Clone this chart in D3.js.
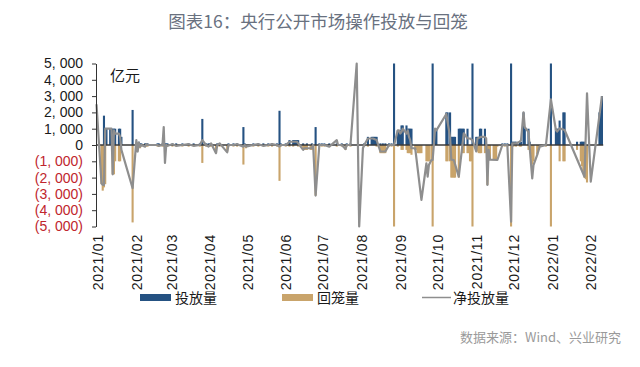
<!DOCTYPE html>
<html>
<head>
<meta charset="utf-8">
<script src="https://cdn.jsdelivr.net/npm/d3@7"></script>
<style>
  body { margin: 0; background: #fff; }
  svg { display: block; }
</style>
</head>
<body>
<div id="chart"></div>
<script>
// 央行公开市场操作 daily amounts, 亿元
const injection = [
  ['2021-01-06', 1800], ['2021-01-07', 1000], ['2021-01-08', 1000], ['2021-01-11', 1000], ['2021-01-12', 1000],
  ['2021-01-13', 1000], ['2021-01-14', 1000], ['2021-01-15', 1000], ['2021-01-18', 1000], ['2021-01-19', 1000],
  ['2021-01-20', 500], ['2021-01-29', 2150],
  ['2021-02-01', 100], ['2021-02-03', 200], ['2021-02-04', 100], ['2021-02-05', 100], ['2021-02-08', 100],
  ['2021-02-09', 100], ['2021-02-10', 100], ['2021-02-18', 100], ['2021-02-19', 100], ['2021-02-22', 100],
  ['2021-02-23', 100], ['2021-02-24', 100], ['2021-02-25', 100], ['2021-02-26', 100],
  ['2021-03-02', 100], ['2021-03-05', 100], ['2021-03-10', 100], ['2021-03-15', 100], ['2021-03-19', 100],
  ['2021-03-24', 100], ['2021-03-26', 1600], ['2021-03-29', 100], ['2021-03-31', 100],
  ['2021-04-01', 100], ['2021-04-02', 100], ['2021-04-07', 100], ['2021-04-09', 100], ['2021-04-16', 100],
  ['2021-04-20', 100], ['2021-04-23', 100], ['2021-04-28', 1100], ['2021-04-29', 100],
  ['2021-05-06', 100], ['2021-05-10', 100], ['2021-05-14', 100], ['2021-05-18', 100], ['2021-05-21', 100],
  ['2021-05-25', 100], ['2021-05-27', 2100], ['2021-05-28', 100],
  ['2021-06-01', 100], ['2021-06-04', 300], ['2021-06-07', 300], ['2021-06-08', 300], ['2021-06-09', 300],
  ['2021-06-10', 300], ['2021-06-11', 300], ['2021-06-15', 100], ['2021-06-18', 100], ['2021-06-22', 100],
  ['2021-06-25', 1100], ['2021-06-28', 100], ['2021-06-30', 100],
  ['2021-07-02', 100], ['2021-07-06', 100], ['2021-07-12', 100], ['2021-07-16', 100], ['2021-07-20', 100],
  ['2021-07-23', 100],
  ['2021-08-03', 100], ['2021-08-06', 500], ['2021-08-09', 500], ['2021-08-10', 500], ['2021-08-11', 500],
  ['2021-08-12', 500], ['2021-08-13', 500], ['2021-08-16', 100], ['2021-08-18', 100], ['2021-08-20', 100],
  ['2021-08-23', 100], ['2021-08-25', 100], ['2021-08-27', 6000], ['2021-08-30', 900], ['2021-08-31', 900],
  ['2021-09-01', 900], ['2021-09-02', 1200], ['2021-09-03', 1200], ['2021-09-06', 1200], ['2021-09-07', 1000],
  ['2021-09-08', 1000], ['2021-09-09', 1000], ['2021-09-10', 1000], ['2021-09-27', 6000], ['2021-09-29', 1000],
  ['2021-09-30', 1000],
  ['2021-10-08', 2000], ['2021-10-09', 2000], ['2021-10-11', 2000], ['2021-10-12', 500], ['2021-10-13', 500],
  ['2021-10-14', 500], ['2021-10-15', 500], ['2021-10-18', 1000], ['2021-10-19', 1000], ['2021-10-20', 1000],
  ['2021-10-21', 1000], ['2021-10-22', 1000], ['2021-10-25', 1000], ['2021-10-29', 6000],
  ['2021-11-01', 500], ['2021-11-02', 500], ['2021-11-03', 500], ['2021-11-04', 1000], ['2021-11-05', 1000],
  ['2021-11-08', 1000], ['2021-11-22', 100], ['2021-11-24', 100], ['2021-11-26', 100], ['2021-11-29', 6000],
  ['2021-11-30', 200],
  ['2021-12-01', 200], ['2021-12-02', 200], ['2021-12-03', 200], ['2021-12-06', 200], ['2021-12-07', 200],
  ['2021-12-09', 2000], ['2021-12-10', 1000], ['2021-12-13', 1000], ['2021-12-14', 200], ['2021-12-27', 100],
  ['2021-12-31', 6000],
  ['2022-01-04', 1000], ['2022-01-05', 1000], ['2022-01-06', 1000], ['2022-01-07', 1500], ['2022-01-10', 2000],
  ['2022-01-11', 2000], ['2022-01-21', 200], ['2022-01-24', 200], ['2022-01-25', 200], ['2022-01-26', 200],
  ['2022-01-27', 200],
  ['2022-02-08', 2000], ['2022-02-09', 2000], ['2022-02-10', 3000]
]

const withdrawal = [
  ['2021-01-04', -2400], ['2021-01-05', -2800], ['2021-01-06', -2600], ['2021-01-07', -2400], ['2021-01-13', -1800],
  ['2021-01-14', -1800], ['2021-01-15', -1000], ['2021-01-18', -1000], ['2021-01-19', -1000], ['2021-01-29', -4750],
  ['2021-02-01', -100], ['2021-02-02', -400], ['2021-02-04', -200], ['2021-02-05', -100], ['2021-02-08', -100],
  ['2021-02-09', -100], ['2021-02-10', -100], ['2021-02-18', -100], ['2021-02-19', -100], ['2021-02-22', -100],
  ['2021-02-23', -100], ['2021-02-24', -100], ['2021-02-25', -100], ['2021-02-26', -100],
  ['2021-03-02', -100], ['2021-03-05', -100], ['2021-03-10', -100], ['2021-03-15', -100], ['2021-03-19', -100],
  ['2021-03-24', -100], ['2021-03-26', -1100], ['2021-03-29', -100], ['2021-03-31', -100],
  ['2021-04-01', -100], ['2021-04-02', -100], ['2021-04-06', -500], ['2021-04-07', -100], ['2021-04-09', -100],
  ['2021-04-15', -400], ['2021-04-16', -100], ['2021-04-20', -100], ['2021-04-23', -100], ['2021-04-28', -1200],
  ['2021-04-29', -100], ['2021-04-30', -200],
  ['2021-05-06', -100], ['2021-05-10', -100], ['2021-05-14', -100], ['2021-05-18', -100], ['2021-05-21', -100],
  ['2021-05-25', -100], ['2021-05-27', -2200], ['2021-05-28', -100],
  ['2021-06-01', -100], ['2021-06-04', -100], ['2021-06-07', -100], ['2021-06-11', -100], ['2021-06-15', -300],
  ['2021-06-16', -300], ['2021-06-17', -300], ['2021-06-18', -300], ['2021-06-21', -300], ['2021-06-22', -300],
  ['2021-06-25', -3100], ['2021-06-28', -100], ['2021-06-30', -100],
  ['2021-07-02', -100], ['2021-07-06', -100], ['2021-07-12', -100], ['2021-07-16', -100], ['2021-07-19', -300],
  ['2021-07-20', -100], ['2021-07-23', -100],
  ['2021-08-03', -100], ['2021-08-06', -100], ['2021-08-13', -100], ['2021-08-16', -500], ['2021-08-17', -500],
  ['2021-08-18', -500], ['2021-08-19', -500], ['2021-08-20', -500], ['2021-08-23', -100], ['2021-08-25', -100],
  ['2021-08-27', -6000], ['2021-08-30', -100],
  ['2021-09-02', -300], ['2021-09-03', -300], ['2021-09-06', -300], ['2021-09-07', -500], ['2021-09-08', -500],
  ['2021-09-09', -500], ['2021-09-10', -600], ['2021-09-13', -300], ['2021-09-14', -300], ['2021-09-15', -500],
  ['2021-09-16', -500], ['2021-09-17', -500], ['2021-09-18', -500], ['2021-09-22', -1000], ['2021-09-23', -1000],
  ['2021-09-24', -1000], ['2021-09-26', -1000], ['2021-09-27', -6000],
  ['2021-10-08', -1000], ['2021-10-09', -1000], ['2021-10-11', -1000], ['2021-10-12', -2000], ['2021-10-13', -2000],
  ['2021-10-14', -2000], ['2021-10-15', -2000], ['2021-10-18', -2000], ['2021-10-21', -500], ['2021-10-22', -500],
  ['2021-10-25', -500], ['2021-10-26', -500], ['2021-10-27', -1000], ['2021-10-28', -1000], ['2021-10-29', -6000],
  ['2021-11-01', -400], ['2021-11-02', -400], ['2021-11-03', -500], ['2021-11-04', -500], ['2021-11-05', -500],
  ['2021-11-08', -500], ['2021-11-09', -100], ['2021-11-10', -2450], ['2021-11-11', -900], ['2021-11-12', -900],
  ['2021-11-15', -900], ['2021-11-16', -900], ['2021-11-17', -900], ['2021-11-18', -100], ['2021-11-22', -100],
  ['2021-11-24', -100], ['2021-11-26', -100], ['2021-11-29', -6000], ['2021-11-30', -100],
  ['2021-12-01', -100], ['2021-12-03', -100], ['2021-12-06', -100], ['2021-12-07', -100], ['2021-12-13', -300],
  ['2021-12-14', -300], ['2021-12-15', -800], ['2021-12-16', -1200], ['2021-12-17', -1000], ['2021-12-20', -600],
  ['2021-12-21', -300], ['2021-12-22', -100], ['2021-12-27', -100], ['2021-12-31', -6000],
  ['2022-01-07', -1000], ['2022-01-10', -1000], ['2022-01-11', -1000], ['2022-01-21', -300], ['2022-01-24', -1000],
  ['2022-01-25', -1300], ['2022-01-26', -1600], ['2022-01-27', -2000], ['2022-01-28', -2100], ['2022-01-29', -2300]
]

const netInjection = [
  ['2020-12-31', 2500], ['2021-01-04', -2350], ['2021-01-05', -2450], ['2021-01-06', -2450], ['2021-01-07', 1000],
  ['2021-01-08', 1000], ['2021-01-11', 1000], ['2021-01-12', 1000], ['2021-01-13', -1800], ['2021-01-14', 900],
  ['2021-01-15', 700], ['2021-01-18', 700], ['2021-01-19', 500], ['2021-01-20', -300], ['2021-01-29', -2650],
  ['2021-02-01', 300], ['2021-02-02', -400], ['2021-02-03', 150], ['2021-02-04', -100], ['2021-02-05', 0],
  ['2021-02-08', -100], ['2021-02-09', 50], ['2021-02-10', 0], ['2021-02-18', 0], ['2021-02-19', -50],
  ['2021-02-22', 0], ['2021-02-23', 1100], ['2021-02-24', -1100], ['2021-02-25', 0], ['2021-02-26', -50],
  ['2021-03-02', 50], ['2021-03-05', -50], ['2021-03-10', 0], ['2021-03-15', 50], ['2021-03-19', -50],
  ['2021-03-24', 0], ['2021-03-26', 300], ['2021-03-29', 0], ['2021-03-31', -100],
  ['2021-04-01', 0], ['2021-04-02', 100], ['2021-04-06', -500], ['2021-04-07', 0], ['2021-04-09', 100],
  ['2021-04-15', -450], ['2021-04-16', 0], ['2021-04-20', 0], ['2021-04-23', 50], ['2021-04-28', -100],
  ['2021-04-29', 0], ['2021-04-30', -100],
  ['2021-05-06', 0], ['2021-05-10', 50], ['2021-05-14', -50], ['2021-05-18', 0], ['2021-05-21', 50],
  ['2021-05-25', 0], ['2021-05-27', -100], ['2021-05-28', 0],
  ['2021-06-01', 0], ['2021-06-04', 200], ['2021-06-07', 200], ['2021-06-10', 200], ['2021-06-11', 100],
  ['2021-06-15', -300], ['2021-06-16', -200], ['2021-06-18', -200], ['2021-06-22', -200], ['2021-06-23', 0],
  ['2021-06-25', -3100], ['2021-06-28', 0], ['2021-06-30', 0],
  ['2021-07-02', 0], ['2021-07-06', -100], ['2021-07-12', 300], ['2021-07-13', 0], ['2021-07-16', 0],
  ['2021-07-19', -250], ['2021-07-20', 0], ['2021-07-23', 0], ['2021-07-28', 6000], ['2021-07-30', -6000],
  ['2021-08-02', -200], ['2021-08-03', 0], ['2021-08-06', 400], ['2021-08-10', 400], ['2021-08-13', 300],
  ['2021-08-16', -400], ['2021-08-20', -400], ['2021-08-23', 0], ['2021-08-27', 0], ['2021-08-30', 900],
  ['2021-08-31', 900],
  ['2021-09-01', 700], ['2021-09-02', 800], ['2021-09-03', 1000], ['2021-09-06', 700], ['2021-09-07', 900],
  ['2021-09-08', 500], ['2021-09-09', 300], ['2021-09-10', -200], ['2021-09-13', -200], ['2021-09-18', -3370],
  ['2021-09-22', -1120], ['2021-09-23', -1940], ['2021-09-24', -1230], ['2021-09-26', -920], ['2021-09-27', -920],
  ['2021-09-29', 1000], ['2021-09-30', 900],
  ['2021-10-08', 1900], ['2021-10-09', 1400], ['2021-10-11', 500], ['2021-10-12', -900], ['2021-10-14', -920],
  ['2021-10-18', -1940], ['2021-10-22', 720], ['2021-10-25', 400], ['2021-10-27', 400], ['2021-10-29', 300],
  ['2021-11-01', -400], ['2021-11-02', 400], ['2021-11-05', 500], ['2021-11-08', 500], ['2021-11-09', 400],
  ['2021-11-10', -2450], ['2021-11-11', -300], ['2021-11-12', -900], ['2021-11-18', -920], ['2021-11-22', 0],
  ['2021-11-26', 0], ['2021-11-29', -4700], ['2021-11-30', 100],
  ['2021-12-03', 100], ['2021-12-06', 200], ['2021-12-07', 300], ['2021-12-09', 2000], ['2021-12-10', 1100],
  ['2021-12-13', 800], ['2021-12-14', -200], ['2021-12-16', -2050], ['2021-12-17', -1230], ['2021-12-20', -600],
  ['2021-12-22', -100], ['2021-12-27', 0], ['2021-12-31', 2800],
  ['2022-01-04', 920], ['2022-01-05', 820], ['2022-01-07', 1020], ['2022-01-11', 920], ['2022-01-27', -1950],
  ['2022-01-29', 3170], ['2022-02-01', -2250], ['2022-02-10', 3000]
]

const monthTicks = [
  '2021-01-01', '2021-02-01', '2021-03-01', '2021-04-01', '2021-05-01', '2021-06-01', '2021-07-01',
  '2021-08-01', '2021-09-01', '2021-10-01', '2021-11-01', '2021-12-01', '2022-01-01', '2022-02-01'
]
const yTicks = [-5000, -4000, -3000, -2000, -1000, 0, 1000, 2000, 3000, 4000, 5000]

const colors = {
  injection: '#255282',
  withdrawal: '#c9a46b',
  net: '#8e8e8e',
  axis: '#333333',
  negative: '#c0262d'
}

const width = 640
const height = 367
const parse = d3.utcParse('%Y-%m-%d')
const numFont = '"Liberation Sans", Arial, sans-serif'
const cjkFont = '"Noto Sans CJK SC", sans-serif'

const x = d3.scaleUtc()
  .domain([parse('2020-12-31'), parse('2022-02-11')])
  .range([96.5, 603.2])

const y = d3.scaleLinear()
  .domain([-5000, 5000])
  .range([226.5, 63.5])
  .clamp(true)

const barW = 2.1

const svg = d3.select('#chart').append('svg')
  .attr('width', width)
  .attr('height', height)

svg.append('text')
  .attr('x', 318)
  .attr('y', 28)
  .attr('text-anchor', 'middle')
  .attr('fill', '#69717f')
  .style('font-family', cjkFont)
  .style('font-size', '17.5px')
  .text('图表16：央行公开市场操作投放与回笼')

const g = svg.append('g')

// bars
g.selectAll('.inj').data(injection).join('rect')
  .attr('class', 'inj')
  .attr('x', (d) => x(parse(d[0])) - barW / 2)
  .attr('width', barW)
  .attr('y', (d) => y(d[1]))
  .attr('height', (d) => y(0) - y(d[1]))
  .attr('fill', colors.injection)

g.selectAll('.wd').data(withdrawal).join('rect')
  .attr('class', 'wd')
  .attr('x', (d) => x(parse(d[0])) - barW / 2)
  .attr('width', barW)
  .attr('y', y(0))
  .attr('height', (d) => y(d[1]) - y(0))
  .attr('fill', colors.withdrawal)

// zero line
g.append('line')
  .attr('x1', x.range()[0])
  .attr('x2', x.range()[1])
  .attr('y1', y(0))
  .attr('y2', y(0))
  .attr('stroke', '#3a3a3a')
  .attr('stroke-width', 1.5)

// net line
const line = d3.line()
  .x((d) => x(parse(d[0])))
  .y((d) => y(d[1]))

g.append('path')
  .datum(netInjection)
  .attr('d', line)
  .attr('fill', 'none')
  .attr('stroke', colors.net)
  .attr('stroke-width', 2.2)
  .attr('stroke-linejoin', 'round')

// y axis
const fmt = d3.format(',')
const yAxisG = g.append('g')
  .attr('transform', `translate(${x.range()[0] - 0.5}, 0)`)
  .call(d3.axisLeft(y).tickValues(yTicks).tickSize(4).tickSizeOuter(0)
    .tickFormat((d) => {
      const s = fmt(Math.abs(d)).replace(',', ', ')
      return d < 0 ? `(${s})` : s
    }))

yAxisG.select('.domain').attr('stroke', colors.axis)
yAxisG.selectAll('line').attr('stroke', colors.axis)
yAxisG.selectAll('text')
  .attr('x', -13)
  .attr('fill', (d) => d < 0 ? colors.negative : '#1a1a1a')
  .style('font-family', numFont)
  .style('font-size', '14px')

svg.append('text')
  .attr('x', 110)
  .attr('y', 81)
  .attr('fill', '#1a1a1a')
  .style('font-family', cjkFont)
  .style('font-size', '15px')
  .text('亿元')

// x axis labels
const xAxisG = g.append('g')
  .attr('transform', 'translate(0, 234)')
  .call(d3.axisBottom(x).tickValues(monthTicks.map(parse)).tickSize(0)
    .tickFormat(d3.utcFormat('%Y/%m')))

xAxisG.select('.domain').remove()
xAxisG.selectAll('text')
  .attr('x', 0)
  .attr('y', 0)
  .attr('dy', '0.35em')
  .attr('transform', 'rotate(-90)')
  .attr('text-anchor', 'end')
  .attr('fill', '#1a1a1a')
  .style('font-family', numFont)
  .style('font-size', '14px')
  .style('letter-spacing', '0.8px')

// legend
const legend = svg.append('g').attr('transform', 'translate(0, 297.5)')

legend.append('rect').attr('x', 140).attr('y', -3.5).attr('width', 31).attr('height', 7)
  .attr('fill', colors.injection)
legend.append('rect').attr('x', 282).attr('y', -3.5).attr('width', 31).attr('height', 7)
  .attr('fill', colors.withdrawal)
legend.append('line').attr('x1', 422).attr('x2', 451).attr('y1', 0).attr('y2', 0)
  .attr('stroke', colors.net).attr('stroke-width', 1.5)

legend.selectAll('.lt')
  .data([[175, '投放量'], [317, '回笼量'], [453, '净投放量']])
  .join('text')
  .attr('class', 'lt')
  .attr('x', (d) => d[0])
  .attr('y', 0)
  .attr('dy', '0.36em')
  .attr('fill', '#1a1a1a')
  .style('font-family', cjkFont)
  .style('font-size', '14px')
  .text((d) => d[1])

svg.append('text')
  .attr('x', 621)
  .attr('y', 342)
  .attr('text-anchor', 'end')
  .attr('fill', '#9a9a9a')
  .style('font-family', cjkFont)
  .style('font-size', '13px')
  .text('数据来源：Wind、兴业研究')
</script>
</body>
</html>
